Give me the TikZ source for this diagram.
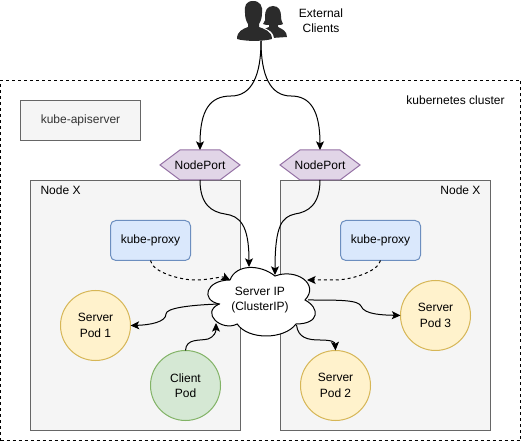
\documentclass[tikz,border=0pt]{standalone}
\usepackage{fontspec}
\setmainfont{Liberation Sans}
\usetikzlibrary{arrows.meta}
\definecolor{boxfill}{HTML}{F5F5F5}
\definecolor{boxline}{HTML}{666666}
\definecolor{boxtext}{HTML}{333333}
\definecolor{proxyfill}{HTML}{DAE8FC}
\definecolor{proxyline}{HTML}{6C8EBF}
\definecolor{podfill}{HTML}{FFF2CC}
\definecolor{podline}{HTML}{D6B656}
\definecolor{clientfill}{HTML}{D5E8D4}
\definecolor{clientline}{HTML}{82B366}
\definecolor{portfill}{HTML}{E1D5E7}
\definecolor{portline}{HTML}{9673A6}
\definecolor{iconfill}{HTML}{2B2B2B}
\tikzset{
  x=0.75pt,y=-0.75pt,
  every node/.style={font=\fontsize{9}{10.5}\selectfont,align=center,inner sep=0pt,outer sep=0pt},
  plainbox/.style={draw=boxline,fill=boxfill,line width=0.75pt,minimum width=90pt,text=boxtext},
  proxybox/.style={draw=proxyline,fill=proxyfill,line width=0.75pt,rounded corners=4pt,minimum width=60pt,minimum height=30pt},
  podcircle/.style={circle,draw=podline,fill=podfill,line width=0.75pt,minimum size=52.5pt},
  clientcircle/.style={circle,draw=clientline,fill=clientfill,line width=0.75pt,minimum size=52.5pt},
  porthex/.style={draw=portline,fill=portfill,line width=0.75pt},
  link/.style={draw=black,line width=0.75pt,-{Stealth[length=6.5pt,width=6pt,inset=1.5pt]}},
  dashlink/.style={link,dash pattern=on 2.25pt off 2.25pt},
}
\begin{document}
\begin{tikzpicture}
\useasboundingbox (0,0) rectangle (521,441);
\fill[white] (0,0) rectangle (521,441);
% cluster
\node[draw=black,line width=0.75pt,dash pattern=on 2.25pt off 2.25pt,minimum width=390pt,minimum height=270pt,anchor=north west] (cluster) at (0.5,80.5) {};
\node (clustertitle) at (455.5,100) {kubernetes cluster};
\node[plainbox,minimum height=30pt] (api) at (80.5,120.5) {kube-apiserver};
% worker boxes
\node[plainbox,minimum width=157.5pt,minimum height=187.5pt,anchor=north west] (nodeL) at (30.5,180.5) {};
\node[plainbox,minimum width=157.5pt,minimum height=187.5pt,anchor=north west] (nodeR) at (280.5,180.5) {};
\node[anchor=west] (nodeLt) at (40.5,190) {Node X};
\node[anchor=east] (nodeRt) at (480.5,190) {Node X};
% people icon: rear figure
\fill[iconfill] (273,6) .. controls (267,6) and (265,11) .. (265,16) .. controls (265,20) and (264,22) .. (263,24) .. controls (265,25) and (267,25) .. (269,25) -- (269,27) .. controls (267,28) and (264,29) .. (262,30) -- (272,38) -- (287,37) .. controls (287,31) and (282,29) .. (278,27) -- (278,25) .. controls (280,25) and (282,25) .. (283,24) .. controls (282,22) and (281,20) .. (281,16) .. controls (281,11) and (279,6) .. (273,6) -- cycle;
% white halo and front figure
\fill[white] (253,0) -- (264,4) -- (265,20) -- (261,27) .. controls (268,29) and (275,32) .. (274,42) -- (236,42) -- (240,10) -- cycle;
\fill[iconfill] (253,1) .. controls (246,1) and (244,6) .. (245,13) .. controls (245,17) and (246,21) .. (248,24) -- (248,27) .. controls (243,29) and (237,31) .. (237,39) .. controls (245,41.5) and (263,41.5) .. (272,39) .. controls (272,31) and (264,29) .. (259,27) -- (259,24) .. controls (261,21) and (262,17) .. (262,13) .. controls (263,6) and (260,1) .. (253,1) -- cycle;
\coordinate (people) at (261,41);
\node (clientstitle) at (321,21) {External\\[1pt]Clients};
% hexagons
\path[porthex] (160,165) -- (180,150) -- (220,150) -- (240,165) -- (220,180) -- (180,180) -- cycle;
\path[porthex] (280,165) -- (300,150) -- (340,150) -- (360,165) -- (340,180) -- (300,180) -- cycle;
\node (portL) at (200,165) {NodePort};
\node (portR) at (320,165) {NodePort};
\coordinate (portLtop) at (200,150);
\coordinate (portRtop) at (320,150);
\coordinate (portLbot) at (200,180);
\coordinate (portRbot) at (320,180);
% proxies
\node[proxybox] (proxyL) at (150.5,240.5) {kube-proxy};
\node[proxybox] (proxyR) at (380.5,240.5) {kube-proxy};
% pods
\node[podcircle] (pod1) at (95.5,325.5) {Server\\[1pt]Pod 1};
\node[podcircle] (pod2) at (335.5,385.5) {Server\\[1pt]Pod 2};
\node[podcircle] (pod3) at (435.5,315.5) {Server\\[1pt]Pod 3};
\node[clientcircle] (client) at (185.5,385.5) {Client\\[1pt]Pod};
% cloud
\path[draw=black,fill=white,line width=0.75pt] (230,280)
  .. controls (206,280) and (200,300) .. (219.2,304)
  .. controls (200,312.8) and (221.6,332) .. (237.2,324)
  .. controls (248,340) and (284,340) .. (296,324)
  .. controls (320,324) and (320,308) .. (305,300)
  .. controls (320,284) and (296,268) .. (275,276)
  .. controls (260,264) and (236,264) .. (230,280) -- cycle;
\node (cloud) at (260,300) {Server IP\\[1pt](ClusterIP)};
\coordinate (cloudtopL) at (249,267);
\coordinate (cloudtopR) at (275,275);
\coordinate (cloudleftT) at (230,280);
\coordinate (cloudrightT) at (307,280);
\coordinate (cloudleft) at (219.5,304);
\coordinate (cloudlow) at (216,323);
\coordinate (cloudright) at (308,300);
\coordinate (cloudbot) at (296.5,325);
% connectors
\draw[link] (people) .. controls (261,75) and (252,96) .. (231,96) .. controls (210,96) and (200,110) .. (portLtop);
\draw[link] (people) .. controls (261,75) and (270,96) .. (291,96) .. controls (310,96) and (320,110) .. (portRtop);
\draw[link] (portLbot) .. controls (200,205) and (212,212) .. (225,214) .. controls (240,216) and (249,225) .. (cloudtopL);
\draw[link] (portRbot) .. controls (320,205) and (308,212) .. (295,214) .. controls (282,217) and (275,225) .. (cloudtopR);
\draw[dashlink] (proxyL.south) .. controls (152,272) and (180,280) .. (195,280) .. controls (210,280) and (222,276) .. (cloudleftT);
\draw[dashlink] (proxyR.south) .. controls (378,272) and (350,280) .. (335,280) .. controls (325,280) and (315,280) .. (cloudrightT);
\draw[link] (cloudleft) .. controls (190,305) and (166,308) .. (166,314) .. controls (166,322) and (150,325) .. (pod1.east);
\draw[link] (client.north) .. controls (186,338) and (200,341) .. (208,339) .. controls (214,337) and (216,332) .. (cloudlow);
\draw[link] (cloudright) .. controls (340,300) and (358,300) .. (361,306) .. controls (364,315) and (385,315) .. (pod3.west);
\draw[link] (cloudbot) .. controls (298,338) and (308,340) .. (320,340) .. controls (332,340) and (335,342) .. (pod2.north);
\end{tikzpicture}
\end{document}
